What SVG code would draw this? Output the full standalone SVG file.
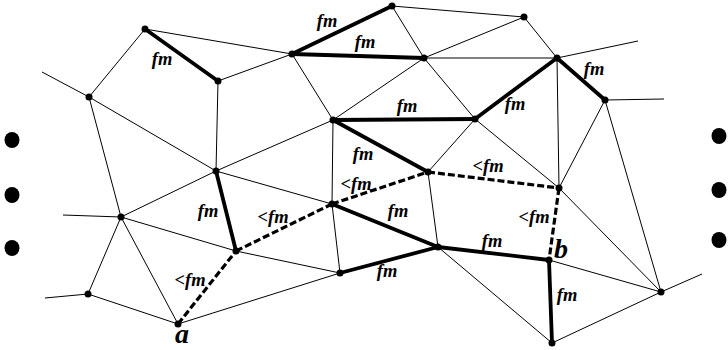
<svg xmlns="http://www.w3.org/2000/svg" width="728" height="350" viewBox="0 0 728 350">
<style>
.t{stroke:#000;stroke-width:1;fill:none}
.k{stroke:#000;stroke-width:3.8;fill:none;stroke-linecap:round}
.d{stroke:#000;stroke-width:3.2;fill:none;stroke-dasharray:7 3}
.n{fill:#000}
.lb{font-family:"Liberation Serif","Times New Roman",serif;font-weight:bold;font-style:italic;font-size:18.5px;fill:#000;text-anchor:middle}
.big{font-family:"Liberation Serif","Times New Roman",serif;font-weight:bold;font-style:italic;font-size:28px;fill:#000;text-anchor:middle}
</style>
<rect width="728" height="350" fill="#fff"/>
<g id="connectors">
<line class="t" x1="145" y1="29" x2="89" y2="97"/>
<line class="t" x1="145" y1="29" x2="292" y2="54"/>
<line class="t" x1="218" y1="81" x2="292" y2="54"/>
<line class="t" x1="218" y1="81" x2="216" y2="171"/>
<line class="t" x1="89" y1="97" x2="42" y2="72"/>
<line class="t" x1="89" y1="97" x2="216" y2="171"/>
<line class="t" x1="89" y1="97" x2="121" y2="217"/>
<line class="t" x1="292" y1="54" x2="333" y2="120"/>
<line class="t" x1="392" y1="6" x2="424" y2="58"/>
<line class="t" x1="392" y1="6" x2="524" y2="17"/>
<line class="t" x1="424" y1="58" x2="333" y2="120"/>
<line class="t" x1="424" y1="58" x2="524" y2="17"/>
<line class="t" x1="424" y1="58" x2="557" y2="58"/>
<line class="t" x1="424" y1="58" x2="475" y2="119"/>
<line class="t" x1="333" y1="120" x2="216" y2="171"/>
<line class="t" x1="333" y1="120" x2="332" y2="204"/>
<line class="t" x1="475" y1="119" x2="428" y2="172"/>
<line class="t" x1="475" y1="119" x2="559" y2="188"/>
<line class="t" x1="524" y1="17" x2="557" y2="58"/>
<line class="t" x1="557" y1="58" x2="638" y2="41"/>
<line class="t" x1="557" y1="58" x2="559" y2="188"/>
<line class="t" x1="605" y1="100" x2="664" y2="99"/>
<line class="t" x1="605" y1="100" x2="559" y2="188"/>
<line class="t" x1="605" y1="100" x2="661" y2="292"/>
<line class="t" x1="216" y1="171" x2="121" y2="217"/>
<line class="t" x1="216" y1="171" x2="332" y2="204"/>
<line class="t" x1="121" y1="217" x2="63" y2="215"/>
<line class="t" x1="121" y1="217" x2="88" y2="294"/>
<line class="t" x1="121" y1="217" x2="236" y2="251"/>
<line class="t" x1="121" y1="217" x2="178" y2="324"/>
<line class="t" x1="88" y1="294" x2="45" y2="298"/>
<line class="t" x1="88" y1="294" x2="178" y2="324"/>
<line class="t" x1="178" y1="324" x2="340" y2="273"/>
<line class="t" x1="236" y1="251" x2="340" y2="273"/>
<line class="t" x1="332" y1="204" x2="340" y2="273"/>
<line class="t" x1="428" y1="172" x2="438" y2="247"/>
<line class="t" x1="438" y1="247" x2="552" y2="343"/>
<line class="t" x1="559" y1="188" x2="661" y2="292"/>
<line class="t" x1="549" y1="260" x2="661" y2="292"/>
<line class="t" x1="552" y1="343" x2="661" y2="292"/>
<line class="t" x1="661" y1="292" x2="702" y2="274"/>
<line class="k" x1="145" y1="29" x2="218" y2="81"/>
<line class="k" x1="292" y1="54" x2="392" y2="6"/>
<line class="k" x1="292" y1="54" x2="424" y2="58"/>
<line class="k" x1="333" y1="120" x2="475" y2="119"/>
<line class="k" x1="333" y1="120" x2="428" y2="172"/>
<line class="k" x1="475" y1="119" x2="557" y2="58"/>
<line class="k" x1="557" y1="58" x2="605" y2="100"/>
<line class="k" x1="216" y1="171" x2="236" y2="251"/>
<line class="k" x1="332" y1="204" x2="438" y2="247"/>
<line class="k" x1="340" y1="273" x2="438" y2="247"/>
<line class="k" x1="438" y1="247" x2="549" y2="260"/>
<line class="k" x1="549" y1="260" x2="552" y2="343"/>
<line class="d" x1="178" y1="324" x2="236" y2="251"/>
<line class="d" x1="236" y1="251" x2="332" y2="204"/>
<line class="d" x1="332" y1="204" x2="428" y2="172"/>
<line class="d" x1="428" y1="172" x2="559" y2="188"/>
<line class="d" x1="559" y1="188" x2="549" y2="260"/>
</g>
<g id="labels">
<text class="lb" x="162" y="65">fm</text>
<text class="lb" x="327" y="27">fm</text>
<text class="lb" x="365" y="48">fm</text>
<text class="lb" x="407" y="112">fm</text>
<text class="lb" x="363" y="160">fm</text>
<text class="lb" x="594" y="75">fm</text>
<text class="lb" x="515" y="110">fm</text>
<text class="lb" x="488" y="172">&lt;fm</text>
<text class="lb" x="356" y="190">&lt;fm</text>
<text class="lb" x="398" y="217">fm</text>
<text class="lb" x="534" y="223">&lt;fm</text>
<text class="lb" x="208" y="217">fm</text>
<text class="lb" x="273" y="223">&lt;fm</text>
<text class="lb" x="190" y="286">&lt;fm</text>
<text class="lb" x="387" y="277">fm</text>
<text class="lb" x="492" y="247">fm</text>
<text class="lb" x="567" y="301">fm</text>
</g>
<g id="node-A1"><circle class="n" cx="145" cy="29" r="3.5"/></g>
<g id="node-A2"><circle class="n" cx="218" cy="81" r="3.5"/></g>
<g id="node-A3"><circle class="n" cx="89" cy="97" r="3.5"/></g>
<g id="node-B1"><circle class="n" cx="292" cy="54" r="3.5"/></g>
<g id="node-B2"><circle class="n" cx="392" cy="6" r="3.5"/></g>
<g id="node-B3"><circle class="n" cx="424" cy="58" r="3.5"/></g>
<g id="node-B4"><circle class="n" cx="333" cy="120" r="3.5"/></g>
<g id="node-B5"><circle class="n" cx="475" cy="119" r="3.5"/></g>
<g id="node-C1"><circle class="n" cx="524" cy="17" r="3.5"/></g>
<g id="node-C2"><circle class="n" cx="557" cy="58" r="3.5"/></g>
<g id="node-C3"><circle class="n" cx="605" cy="100" r="3.5"/></g>
<g id="node-N"><circle class="n" cx="216" cy="171" r="3.5"/></g>
<g id="node-G"><circle class="n" cx="428" cy="172" r="3.5"/></g>
<g id="node-F1"><circle class="n" cx="559" cy="188" r="3.5"/></g>
<g id="node-D1"><circle class="n" cx="121" cy="217" r="3.5"/></g>
<g id="node-D2"><circle class="n" cx="88" cy="294" r="3.5"/></g>
<g id="node-D3"><circle class="n" cx="236" cy="251" r="3.5"/></g>
<g id="node-E1"><circle class="n" cx="332" cy="204" r="3.5"/></g>
<g id="node-E2"><circle class="n" cx="340" cy="273" r="3.5"/></g>
<g id="node-E3"><circle class="n" cx="438" cy="247" r="3.5"/></g>
<g id="node-F3"><circle class="n" cx="661" cy="292" r="3.5"/></g>
<g id="node-F4"><circle class="n" cx="552" cy="343" r="3.5"/></g>
<g id="node-a"><circle class="n" cx="178" cy="324" r="3.5"/><text class="big" x="182" y="343">a</text></g>
<g id="node-b"><circle class="n" cx="549" cy="260" r="3.5"/><text class="big" x="561" y="258">b</text></g>
<g id="ellipsis-left">
<ellipse class="n" cx="12" cy="140" rx="7.5" ry="8"/>
<ellipse class="n" cx="12" cy="195" rx="7.5" ry="8"/>
<ellipse class="n" cx="12" cy="248" rx="7.5" ry="8"/>
</g>
<g id="ellipsis-right">
<ellipse class="n" cx="719" cy="136" rx="7.5" ry="8"/>
<ellipse class="n" cx="719" cy="190" rx="7.5" ry="8"/>
<ellipse class="n" cx="719" cy="240" rx="7.5" ry="8"/>
</g>
</svg>
